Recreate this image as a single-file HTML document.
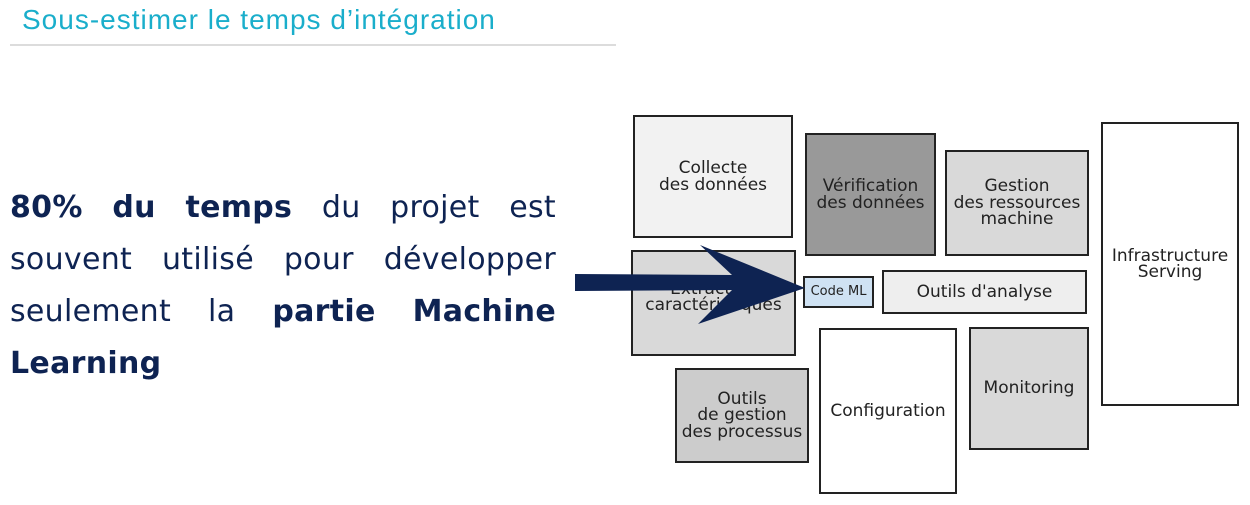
<!DOCTYPE html>
<html><head><meta charset="utf-8"><style>
body{margin:0;width:1250px;height:505px;background:#fff;position:relative;overflow:hidden;font-family:"DejaVu Sans",sans-serif}
.t{position:absolute;left:22px;top:4px;font-family:"Liberation Sans",sans-serif;font-size:28px;color:#1aaecb;letter-spacing:1px}
.hr{position:absolute;left:10px;top:44px;width:606px;height:2px;background:#dcdcdc}
.ln{position:absolute;left:10px;width:546px;display:flex;justify-content:space-between;font-family:"DejaVu Sans",sans-serif;font-size:30px;color:#0e2352;letter-spacing:0.3px}
.ln b{font-weight:bold}
.bx{position:absolute;box-sizing:border-box;border:2px solid #222;display:flex;align-items:center;justify-content:center;text-align:center;font-size:17px;line-height:16.5px;color:#222}
</style></head><body>
<div class="t">Sous-estimer le temps d’intégration</div>
<div class="hr"></div>
<div class="ln" style="top:190px"><b>80%</b><b>du</b><b>temps</b><span>du</span><span>projet</span><span>est</span></div>
<div class="ln" style="top:242px"><span>souvent</span><span>utilisé</span><span>pour</span><span>développer</span></div>
<div class="ln" style="top:294px"><span>seulement</span><span>la</span><b>partie</b><b>Machine</b></div>
<div class="ln" style="top:346px;justify-content:flex-start"><b>Learning</b></div>

<div class="bx" style="left:633px;top:115px;width:160px;height:123px;background:#f2f2f2">Collecte<br>des données</div>
<div class="bx" style="left:805px;top:133px;width:131px;height:123px;background:#999">Vérification<br>des données</div>
<div class="bx" style="left:945px;top:150px;width:144px;height:106px;background:#d9d9d9">Gestion<br>des ressources<br>machine</div>
<div class="bx" style="left:1101px;top:122px;width:138px;height:284px;background:#fff">Infrastructure<br>Serving</div>
<div class="bx" style="left:631px;top:250px;width:165px;height:106px;background:#d9d9d9;padding-bottom:12px">Extraction<br>caractéristiques</div>
<div class="bx" style="left:803px;top:276px;width:71px;height:32px;background:#cfe2f3;font-size:13px">Code ML</div>
<div class="bx" style="left:882px;top:270px;width:205px;height:44px;background:#eee">Outils d'analyse</div>
<div class="bx" style="left:675px;top:368px;width:134px;height:95px;background:#ccc">Outils<br>de gestion<br>des processus</div>
<div class="bx" style="left:819px;top:328px;width:138px;height:166px;background:#fff">Configuration</div>
<div class="bx" style="left:969px;top:327px;width:120px;height:123px;background:#d9d9d9">Monitoring</div>

<svg style="position:absolute;left:0;top:0" width="1250" height="505">
<polygon points="575,274 732,275 700,245 805,288 698,324 732,290 575,291" fill="#0e2352"/>
</svg>
</body></html>
